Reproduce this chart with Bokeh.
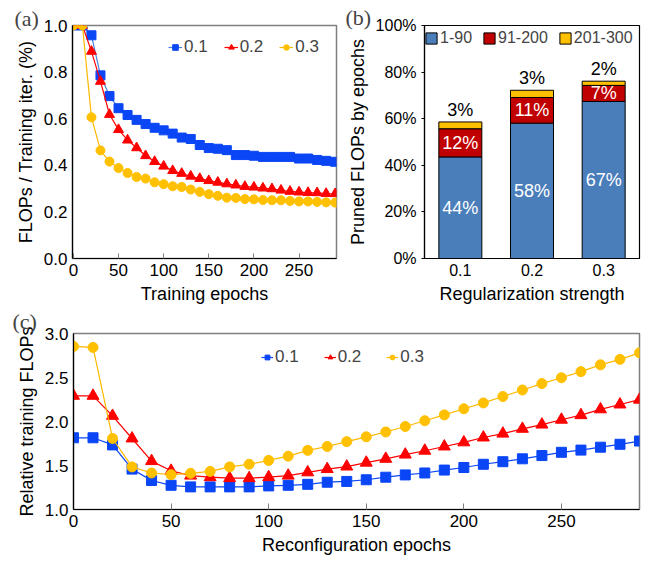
from bokeh.plotting import figure
from bokeh.layouts import column, row
from bokeh.models import Range1d, FactorRange, Label, PrintfTickFormatter, FixedTicker, ColumnDataSource
from bokeh.core.properties import value
from bokeh.embed import file_html
from bokeh.resources import INLINE

FONT = "Liberation Sans"
SERIF = "Liberation Serif"

# ---------------- data ----------------
epochs = [0, 10, 20, 30, 40, 50, 60, 70, 80, 90, 100, 110, 120, 130, 140,
          150, 160, 170, 180, 190, 200, 210, 220, 230, 240, 250, 260, 270, 280, 290]

# (a) FLOPs / training iteration
flops_01 = [1.0, 1.0, 0.958, 0.786, 0.697, 0.645, 0.616, 0.595, 0.577, 0.561,
            0.550, 0.536, 0.519, 0.513, 0.487, 0.474, 0.471, 0.465, 0.444, 0.444,
            0.441, 0.436, 0.436, 0.436, 0.436, 0.429, 0.429, 0.423, 0.419, 0.415]
flops_02 = [1.0, 1.0, 0.889, 0.760, 0.618, 0.553, 0.508, 0.475, 0.441, 0.416,
            0.396, 0.377, 0.365, 0.353, 0.343, 0.334, 0.327, 0.320, 0.315, 0.309,
            0.306, 0.302, 0.299, 0.293, 0.288, 0.285, 0.283, 0.282, 0.279, 0.278]
flops_03 = [1.0, 1.0, 0.606, 0.464, 0.416, 0.388, 0.367, 0.350, 0.343, 0.327,
            0.319, 0.310, 0.307, 0.296, 0.286, 0.276, 0.269, 0.261, 0.260, 0.255,
            0.254, 0.251, 0.250, 0.250, 0.247, 0.245, 0.245, 0.243, 0.241, 0.240]

# (b) pruned FLOPs by epochs (%)
strengths = ["0.1", "0.2", "0.3"]
pruned_1_90 = [43.6, 58.1, 67.4]
pruned_91_200 = [12.1, 11.0, 6.9]
pruned_201_300 = [2.9, 3.1, 1.8]
stack_names = ["1-90", "91-200", "201-300"]

# (c) relative training FLOPs
rel_01 = [1.815, 1.815, 1.734, 1.459, 1.330, 1.275, 1.257, 1.257, 1.257, 1.257,
          1.268, 1.275, 1.286, 1.310, 1.319, 1.338, 1.367, 1.393, 1.415, 1.448,
          1.477, 1.514, 1.543, 1.576, 1.613, 1.650, 1.675, 1.708, 1.741, 1.778]
rel_02 = [2.292, 2.292, 2.064, 1.807, 1.550, 1.440, 1.385, 1.367, 1.356, 1.356,
          1.367, 1.385, 1.422, 1.459, 1.488, 1.532, 1.576, 1.624, 1.668, 1.716,
          1.763, 1.818, 1.862, 1.917, 1.965, 2.020, 2.072, 2.138, 2.193, 2.248]
rel_03 = [2.853, 2.842, 1.807, 1.484, 1.415, 1.396, 1.411, 1.433, 1.484, 1.514,
          1.558, 1.606, 1.672, 1.716, 1.771, 1.826, 1.881, 1.943, 2.009, 2.075,
          2.145, 2.211, 2.284, 2.358, 2.431, 2.497, 2.567, 2.644, 2.706, 2.780]

series_labels = ["0.1", "0.2", "0.3"]

BLUE_M, BLUE_L = "#0a46f5", "#4a80e0"
RED = "#ff0000"
YEL = "#ffc000"
BAR_COLORS = ["#4a7ebb", "#c00000", "#ffc000"]


def style_axes(p, tick_size="17px"):
    for ax in (p.xaxis[0], p.yaxis[0]):
        ax.major_label_text_font = FONT
        ax.major_label_text_font_size = tick_size
        ax.major_label_text_color = "black"
        ax.axis_label_text_font = FONT
        ax.axis_label_text_font_size = "18px"
        ax.axis_label_text_font_style = "normal"
        ax.axis_label_text_color = "black"
        ax.axis_line_color = "black"
        ax.axis_line_width = 1.2
        ax.minor_tick_line_color = None
        ax.major_label_standoff = 5
        ax.axis_label_standoff = 5
    p.xgrid.grid_line_color = None
    p.ygrid.grid_line_color = None


def style_legend(leg, size="17px"):
    leg.orientation = "horizontal"
    leg.border_line_color = None
    leg.background_fill_alpha = 0
    leg.padding = 0
    leg.margin = 0
    leg.label_text_font = FONT
    leg.label_text_font_size = size
    leg.label_standoff = 2


def panel_tag(p, text, dx, dy):
    p.add_layout(Label(x=dx, y=dy, x_units="screen", y_units="screen", text=text,
                       text_font=SERIF, text_font_size="22px", text_baseline="middle"),
                 "above")


# ---------------- panel (a) ----------------
pa = figure(width=344, height=308, x_range=Range1d(-1, 291.5), y_range=Range1d(0, 1.0),
            output_backend="svg", toolbar_location=None,
            min_border_left=72, min_border_right=8, min_border_top=22, min_border_bottom=50)
pa.outline_line_color = "#7f7f7f"
pa.outline_line_width = 1.5
style_axes(pa)
pa.xaxis.axis_label = "Training epochs"
pa.yaxis.axis_label = "FLOPs / Training iter. (%)"
pa.xaxis.ticker = FixedTicker(ticks=[0, 50, 100, 150, 200, 250])
pa.yaxis.ticker = FixedTicker(ticks=[0, 0.2, 0.4, 0.6, 0.8, 1.0])
pa.yaxis.formatter = PrintfTickFormatter(format="%.1f")
pa.xaxis.major_tick_in = 5
pa.xaxis.major_tick_out = 0
pa.xaxis.major_tick_line_color = "#7f7f7f"
pa.yaxis.major_tick_in = 0
pa.yaxis.major_tick_out = 0

for ys, lab, lc, mc, mk, sz in [(flops_01, "0.1", BLUE_L, BLUE_M, "square", 9),
                                (flops_02, "0.2", RED, RED, "triangle", 10),
                                (flops_03, "0.3", "#ffb800", YEL, "circle", 9)]:
    pa.line(epochs, ys, line_color=lc, line_width=1.2, legend_label=lab)
    pa.scatter(epochs, ys, marker=mk, size=sz, fill_color=mc, line_color=mc, legend_label=lab)

lga = pa.legend[0]
style_legend(lga)
lga.location = (96, 201)
lga.spacing = 16
lga.glyph_width = 14

panel_tag(pa, "(a)", -58, 7)

# ---------------- panel (b) ----------------
src = ColumnDataSource(data={"x": strengths, "1-90": pruned_1_90,
                             "91-200": pruned_91_200, "201-300": pruned_201_300})
pb = figure(width=297, height=308, x_range=FactorRange(*strengths, range_padding=0),
            y_range=Range1d(0, 100), output_backend="svg", toolbar_location=None,
            min_border_left=76, min_border_right=2, min_border_top=23, min_border_bottom=50)
pb.outline_line_color = "black"
pb.outline_line_width = 1.2
style_axes(pb, tick_size="16px")
pb.xaxis.axis_label = "Regularization strength"
pb.yaxis.axis_label = "Pruned FLOPs by epochs"
pb.yaxis.ticker = FixedTicker(ticks=[0, 20, 40, 60, 80, 100])
pb.yaxis.formatter = PrintfTickFormatter(format="%d%%")
pb.xaxis.major_tick_in = 0
pb.xaxis.major_tick_out = 0
pb.yaxis.major_tick_in = 0
pb.yaxis.major_tick_out = 3

pb.vbar_stack(stack_names, x="x", width=0.6, source=src, fill_color=BAR_COLORS,
              line_color="black", line_width=1, legend_label=stack_names)

lgb = pb.legend[0]
style_legend(lgb, size="16px")
lgb.location = (0, 211)
lgb.spacing = 10
lgb.glyph_width = 14
lgb.glyph_height = 14
lgb.label_height = 16

mid_blue = [v / 2 for v in pruned_1_90]
mid_red = [a + b / 2 for a, b in zip(pruned_1_90, pruned_91_200)]
top_all = [a + b + c for a, b, c in zip(pruned_1_90, pruned_91_200, pruned_201_300)]
pb.text(strengths, mid_blue, text=[f"{round(v)}%" for v in pruned_1_90],
        text_color="white", text_font=value(FONT), text_font_size="18px",
        text_align="center", text_baseline="middle")
pb.text(strengths, mid_red, text=[f"{round(v)}%" for v in pruned_91_200],
        text_color="white", text_font=value(FONT), text_font_size="18px",
        text_align="center", text_baseline="middle")
pb.text(strengths, top_all, text=[f"{round(v)}%" for v in pruned_201_300],
        text_color="black", text_font=value(FONT), text_font_size="18px",
        text_align="center", text_baseline="bottom", y_offset=-2)

panel_tag(pb, "(b)", -79, 8)

# ---------------- panel (c) ----------------
pc = figure(width=641, height=249, x_range=Range1d(0, 290), y_range=Range1d(1.0, 3.0),
            output_backend="svg", toolbar_location=None,
            min_border_left=73, min_border_right=2, min_border_top=24, min_border_bottom=43)
pc.outline_line_color = "#7f7f7f"
pc.outline_line_width = 1.5
style_axes(pc)
pc.xaxis.axis_label = "Reconfiguration epochs"
pc.yaxis.axis_label = "Relative training FLOPs"
pc.xaxis.ticker = FixedTicker(ticks=[0, 50, 100, 150, 200, 250])
pc.yaxis.ticker = FixedTicker(ticks=[1.0, 1.5, 2.0, 2.5, 3.0])
pc.yaxis.formatter = PrintfTickFormatter(format="%.1f")
pc.xaxis.major_tick_in = 6
pc.xaxis.major_tick_out = 0
pc.xaxis.major_tick_line_color = "#7f7f7f"
pc.yaxis.major_tick_in = 0
pc.yaxis.major_tick_out = 0

for ys, lab, lc, mc, mk, sz in [(rel_01, "0.1", BLUE_M, BLUE_M, "square", 10),
                                (rel_02, "0.2", RED, RED, "triangle", 12),
                                (rel_03, "0.3", "#ffb800", YEL, "circle", 10)]:
    pc.line(epochs, ys, line_color=lc, line_width=1.2, legend_label=lab)
    pc.scatter(epochs, ys, marker=mk, size=sz, fill_color=mc, line_color=mc, legend_label=lab)

lgc = pc.legend[0]
style_legend(lgc)
lgc.location = (188, 142)
lgc.spacing = 25
lgc.glyph_width = 12

panel_tag(pc, "(c)", -61, 12)

layout = column(row(pa, pb), pc)
open("out.html", "w").write(file_html(layout, INLINE))
